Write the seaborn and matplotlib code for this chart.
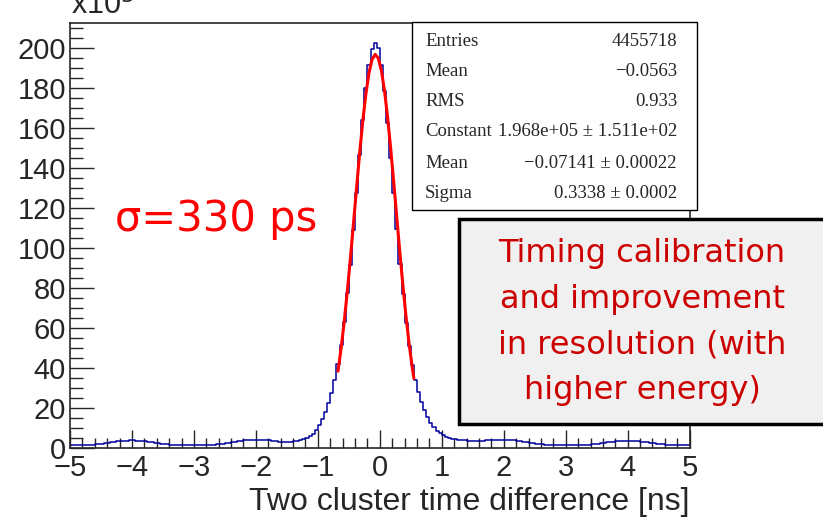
import numpy as np
import pandas as pd
import matplotlib
matplotlib.use("Agg")
import matplotlib.pyplot as plt
from matplotlib.patches import Rectangle
from matplotlib.ticker import MultipleLocator
import seaborn as sns

# histogram: 200 bins from -5 to 5 ns, counts in units of 10^3
x_lo, x_hi, n_bins = -5.0, 5.0, 200

# -4.975 ... -3.025  (satellite bump at -4 ns)
counts_bump_m4 = [1.25, 1.28, 1.31, 1.36, 1.42, 1.50, 1.61, 1.73, 1.87, 2.04,
                  2.23, 2.44, 2.66, 2.89, 3.11, 3.31, 3.50, 3.64, 3.74, 3.80,
                  3.80, 3.74, 3.64, 3.50, 3.31, 3.11, 2.89, 2.66, 2.44, 2.23,
                  2.04, 1.87, 1.73, 1.61, 1.50, 1.42, 1.36, 1.31, 1.28, 1.25]
# -2.975 ... -1.475  (satellite bump at -2 ns)
counts_bump_m2 = [1.26, 1.29, 1.33, 1.39, 1.46, 1.55, 1.67, 1.81, 1.98, 2.17,
                  2.39, 2.63, 2.89, 3.15, 3.41, 3.64, 3.85, 4.01, 4.13, 4.21,
                  4.23, 4.18, 4.08, 3.95, 3.80, 3.60, 3.40, 3.24, 3.10, 3.00,
                  3.00]
# -1.425 ... 1.275  (main peak)
counts_peak = [3.1, 3.3, 3.6, 4.0, 4.5, 5.1, 6.0, 7.2, 9.0, 11.5,
               14.6, 18.0, 22.3, 27.5, 34.0, 42.0, 51.5, 63.0, 77.5, 91.5,
               109.0, 127.5, 146.5, 164.0, 180.0, 191.5, 199.5, 202.5, 200.0, 191.5,
               178.5, 162.5, 145.0, 127.5, 109.5, 92.0, 77.0, 62.5, 51.0, 41.5,
               34.0, 28.0, 23.0, 18.8, 15.3, 12.5, 10.3, 8.6, 7.3, 6.3,
               5.6, 5.0, 4.6, 4.3, 4.1]
# 1.325 ... 2.975  (satellite bump at +2 ns)
counts_bump_p2 = [3.95, 3.80, 3.65, 3.55, 3.50, 3.55, 3.60, 3.70, 3.80, 3.90,
                  4.00, 4.10, 4.15, 4.15, 4.14, 4.06, 3.92, 3.76, 3.56, 3.33,
                  3.09, 2.83, 2.59, 2.35, 2.14, 1.95, 1.79, 1.65, 1.54, 1.45,
                  1.38, 1.33, 1.29, 1.26]
# 3.025 ... 4.975  (satellite bump at +4 ns)
counts_bump_p4 = [1.27, 1.28, 1.31, 1.36, 1.42, 1.49, 1.59, 1.71, 1.85, 2.01,
                  2.20, 2.40, 2.61, 2.83, 3.04, 3.23, 3.41, 3.55, 3.64, 3.69,
                  3.69, 3.64, 3.55, 3.41, 3.23, 3.04, 2.83, 2.61, 2.40, 2.20,
                  2.01, 1.85, 1.71, 1.59, 1.49, 1.42, 1.36, 1.31, 1.28, 1.25]

# gaussian fit curve (x in ns, y in 10^3)
fit_x = [-0.675, -0.625, -0.575, -0.525, -0.475, -0.425, -0.375, -0.325, -0.275,
         -0.225, -0.175, -0.125, -0.075, -0.025, 0.025, 0.075, 0.125, 0.175,
         0.225, 0.275, 0.325, 0.375, 0.425, 0.475, 0.525, 0.55]
fit_y = [38.4, 49.7, 63.0, 78.2, 94.7, 112.3, 130.1, 147.5, 163.4,
         177.0, 187.5, 194.3, 196.8, 194.9, 188.8, 178.8, 165.5, 149.9,
         132.7, 114.9, 97.2, 80.5, 65.1, 51.5, 39.9, 34.8]

stats_names = ["Entries", "Mean", "RMS", "Constant", "Mean", "Sigma"]
stats_values = ["4455718", "\u22120.0563", "0.933", "1.968e+05 \u00b1 1.511e+02",
                "\u22120.07141 \u00b1 0.00022", "0.3338 \u00b1 0.0002"]

counts = counts_bump_m4 + counts_bump_m2 + counts_peak + counts_bump_p2 + counts_bump_p4
edges = np.linspace(x_lo, x_hi, n_bins + 1)
hist_df = pd.DataFrame({"t": 0.5 * (edges[:-1] + edges[1:]), "w": counts})

sns.set_style("ticks")
plt.rcParams["font.family"] = ["Liberation Sans", "DejaVu Sans"]

fig = plt.figure(figsize=(8.23, 5.17), dpi=100)
ax = fig.add_axes([0.085, 0.1335, 0.753, 0.822])

sns.histplot(data=hist_df, x="t", weights="w", bins=n_bins, binrange=(x_lo, x_hi),
             element="step", fill=False, color="#00009c", linewidth=1.1, ax=ax)
sns.lineplot(x=fit_x, y=fit_y, color="red", linewidth=2.2, ax=ax)

ax.set_xlim(x_lo, x_hi)
ax.set_ylim(0, 212.5)
ax.set_ylabel("")
ax.set_xlabel("Two cluster time difference [ns]", fontsize=23, loc="right", labelpad=4)
ax.xaxis.set_major_locator(MultipleLocator(1))
ax.xaxis.set_minor_locator(MultipleLocator(0.2))
ax.yaxis.set_major_locator(MultipleLocator(20))
ax.yaxis.set_minor_locator(MultipleLocator(5))
ax.tick_params(which="major", direction="in", length=13, width=1, labelsize=21, pad=4)
ax.tick_params(which="minor", direction="in", length=7, width=1)
ax.tick_params(axis="y", which="major", length=17, pad=3)
ax.tick_params(axis="y", which="minor", length=9)
for s in ax.spines.values():
    s.set_linewidth(1.2)
    s.set_visible(True)

fig.text(0.086, 1 - 14 / 517, r"x10$^{3}$", fontsize=22, va="baseline", ha="left")

ax.text(-4.27, 114.5, "\u03c3=330 ps", color="red", fontsize=30, va="center", ha="left",
        family=["DejaVu Sans"])

# statistics box
bx0, bx1, by0, by1 = 412 / 823, 697 / 823, 1 - 210 / 517, 1 - 22 / 517
fig.add_artist(Rectangle((bx0, by0), bx1 - bx0, by1 - by0, transform=fig.transFigure,
                         facecolor="white", edgecolor="black", linewidth=1.0, zorder=5))
row_y = [41, 72, 102, 132, 163, 194]
for name, val, yy in zip(stats_names, stats_values, row_y):
    fig.text(425 / 823, 1 - yy / 517, name, fontsize=13.5, va="center", ha="left",
             family=["Liberation Serif", "DejaVu Serif"], zorder=6)
    fig.text(677 / 823, 1 - yy / 517, val, fontsize=13.5, va="center", ha="right",
             family=["Liberation Serif", "DejaVu Serif"], zorder=6)

# annotation box
fig.add_artist(Rectangle((459 / 823, 1 - 424 / 517), 380 / 823, 205 / 517,
                         transform=fig.transFigure, facecolor="#f0f0f0",
                         edgecolor="black", linewidth=2.5, zorder=5))
fig.text(642 / 823, 1 - 322 / 517,
         "Timing calibration\nand improvement\nin resolution (with\nhigher energy)",
         color="#cc0000", fontsize=23, ha="center", va="center", linespacing=1.62,
         family=["DejaVu Sans"], zorder=6)

fig.savefig("out.png", dpi=100)
